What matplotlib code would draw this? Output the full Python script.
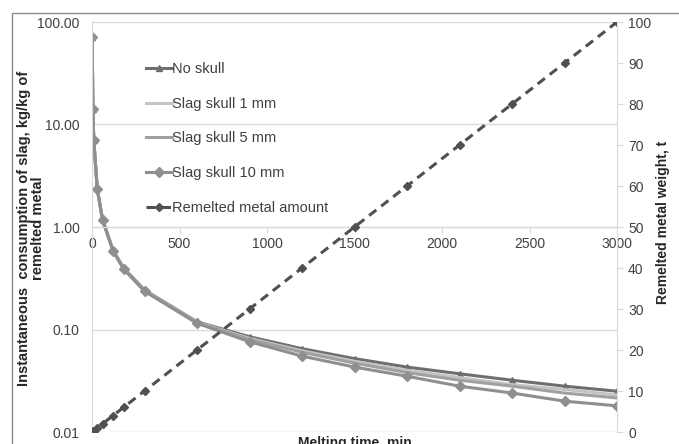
import matplotlib
matplotlib.use("Agg")
import matplotlib.pyplot as plt
from matplotlib.patches import Rectangle

plt.rcParams['font.family'] = ['Liberation Sans', 'DejaVu Sans']

# melting time, min
time_min = [1, 5, 10, 30, 60, 120, 180, 300, 600, 900, 1200, 1500, 1800, 2100, 2400, 2700, 3000]

# instantaneous consumption of slag, kg/kg of remelted metal
no_skull = [71, 14.3, 7.1, 2.38, 1.19, 0.595, 0.400, 0.243, 0.119, 0.085, 0.065, 0.052, 0.043, 0.037, 0.032, 0.028, 0.025]
skull_1mm = [71, 14.2, 7.1, 2.37, 1.18, 0.592, 0.397, 0.241, 0.118, 0.082, 0.062, 0.049, 0.040, 0.034, 0.029, 0.026, 0.023]
skull_5mm = [71, 14.2, 7.1, 2.36, 1.18, 0.590, 0.394, 0.239, 0.117, 0.080, 0.060, 0.047, 0.038, 0.032, 0.028, 0.024, 0.0215]
skull_10mm = [71, 14.1, 7.0, 2.35, 1.17, 0.585, 0.390, 0.236, 0.115, 0.076, 0.055, 0.043, 0.035, 0.028, 0.024, 0.020, 0.018]

# remelted metal weight, t
remelted = [0.033, 0.167, 0.33, 1, 2, 4, 6, 10, 20, 30, 40, 50, 60, 70, 80, 90, 100]

x_ticks = [0, 500, 1000, 1500, 2000, 2500, 3000]
left_ticks = [0.01, 0.1, 1, 10, 100]
right_ticks = list(range(0, 101, 10))

txt = '#404040'
grid_c = '#d9d9d9'

fig = plt.figure(figsize=(6.79, 4.44), dpi=100)
# outer chart border
fig.patches.append(Rectangle((12 / 679, -0.1), 1.2, 1 - 13.5 / 444 + 0.1, transform=fig.transFigure,
                             fill=False, edgecolor='#8c8c8c', linewidth=1.0))

ax = fig.add_axes([92 / 679, 1 - 432 / 444, 525 / 679, 410 / 444])
ax.set_yscale('log')
ax.set_xlim(0, 3000)
ax.set_ylim(0.01, 100)

l1, = ax.plot(time_min, no_skull, color='#6e6e6e', lw=2.2, marker='^', ms=4.5, label='No skull')
l2, = ax.plot(time_min, skull_1mm, color='#c4c4c4', lw=2.2, label='Slag skull 1 mm')
l3, = ax.plot(time_min, skull_5mm, color='#a0a0a0', lw=2.2, label='Slag skull 5 mm')
l4, = ax.plot(time_min, skull_10mm, color='#8f8f8f', lw=2.2, marker='D', ms=5.5, label='Slag skull 10 mm')

ax.set_yticks(left_ticks)
ax.set_yticklabels(['%.2f' % v for v in left_ticks])
ax.minorticks_off()
ax.set_xticks(x_ticks)
ax.grid(axis='y', color=grid_c, lw=1)
ax.tick_params(axis='y', length=0, colors=txt, labelsize=10, pad=9)
ax.tick_params(axis='x', length=4, color=grid_c, colors=txt, labelsize=10, pad=3)
ax.spines['bottom'].set_position(('data', 1))
ax.spines['bottom'].set_color(grid_c)
ax.spines['left'].set_color(grid_c)
ax.spines['top'].set_visible(False)
ax.spines['right'].set_visible(False)
for lab in ax.get_xticklabels():
    lab.set_color(txt)

ax2 = ax.twinx()
ax2.set_ylim(0, 100)
ax2.set_yticks(right_ticks)
l5, = ax2.plot(time_min, remelted, color='#505050', lw=2.2, ls=(0, (3, 2)), marker='D', ms=4.5,
               label='Remelted metal amount')
ax2.tick_params(axis='y', length=4, color=grid_c, colors=txt, labelsize=10, pad=4)
ax2.spines['right'].set_color(grid_c)
for s in ['top', 'left', 'bottom']:
    ax2.spines[s].set_visible(False)

ax2.legend(handles=[l1, l2, l3, l4, l5], loc='upper left', bbox_to_anchor=(0.078, 0.935),
           frameon=False, fontsize=10.5, handlelength=1.75, handletextpad=0.05, labelspacing=1.43,
           labelcolor=txt)

fig.text(31 / 679, 1 - 228 / 444, 'Instantaneous  consumption of slag, kg/kg of\nremelted metal', rotation=90,
         ha='center', va='center', fontsize=10.5, fontweight='bold', color='#262626', linespacing=1.05)
fig.text(663 / 679, 0.5, 'Remelted metal weight, t', rotation=90, ha='center', va='center',
         fontsize=10, fontweight='bold', color='#262626')
fig.text(355 / 679, 1 - 436 / 444, 'Melting time, min', ha='center', va='top', fontsize=10,
         fontweight='bold', color='#262626')

fig.savefig('out.png', dpi=100)
